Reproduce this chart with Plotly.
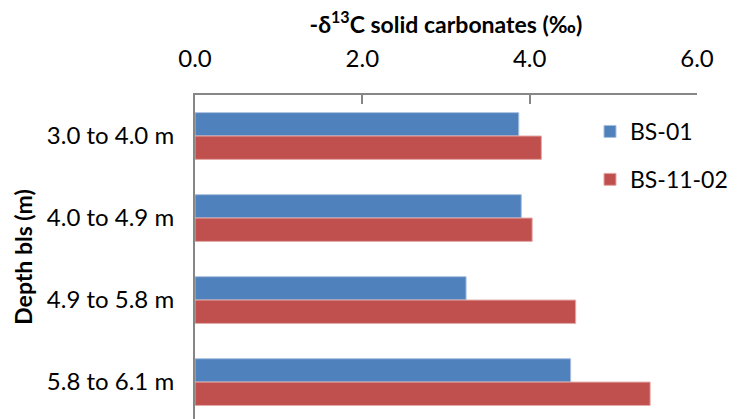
import plotly.graph_objects as go

# Depth intervals (below land surface) and carbonate delta-13C values (negated, per mil)
depths = ["3.0 to 4.0 m", "4.0 to 4.9 m", "4.9 to 5.8 m", "5.8 to 6.1 m"]
bs01 = [3.87, 3.90, 3.24, 4.49]
bs1102 = [4.14, 4.03, 4.55, 5.44]
tick_values = [0, 2, 4, 6]
tick_labels = ["0.0", "2.0", "4.0", "6.0"]

FONT = "Lato, Calibri, Carlito, sans-serif"
AXIS_GREY = "#868686"

fig = go.Figure()
fig.add_trace(go.Bar(
    y=depths, x=bs01, name="BS-01", orientation="h",
    marker=dict(color="#4F81BD", line=dict(color="#A9C1E0", width=1)),
    legendgroup="a",
))
fig.add_trace(go.Bar(
    y=depths, x=bs1102, name="BS-11-02", orientation="h",
    marker=dict(color="#C0504D", line=dict(color="#E3AAA8", width=1)),
    legendgroup="b",
))

fig.update_layout(
    width=739, height=419,
    margin=dict(l=195, r=42, t=95, b=0, autoexpand=False),
    paper_bgcolor="white", plot_bgcolor="white",
    barmode="group", bargap=0.43, bargroupgap=0,
    font=dict(family=FONT, size=24, color="#000000"),
    showlegend=True,
    legend=dict(
        xref="container", yref="container",
        x=590 / 739, y=1 - 110 / 419, xanchor="left", yanchor="top",
        font=dict(size=23), tracegroupgap=15, traceorder="grouped",
        bgcolor="rgba(0,0,0,0)",
    ),
    xaxis=dict(
        side="top", range=[0, 6], tickvals=tick_values, ticktext=tick_labels,
        showline=True, linecolor=AXIS_GREY, linewidth=1.5,
        ticks="inside", ticklen=9, tickcolor=AXIS_GREY, tickwidth=1.5,
        showgrid=False, zeroline=False, ticklabelstandoff=17,
        title=dict(text="<b>-δ<sup>13</sup>C solid carbonates (‰)</b>",
                   font=dict(size=23), standoff=3),
    ),
    yaxis=dict(
        type="category", categoryorder="array", categoryarray=depths,
        range=[3.45, -0.5],
        showline=True, linecolor=AXIS_GREY, linewidth=2,
        ticks="", showgrid=False, zeroline=False, ticklabelstandoff=14,
        title=dict(text="<b>Depth bls (m)</b>", font=dict(size=23), standoff=8),
    ),
)

fig.write_html("out.html")
